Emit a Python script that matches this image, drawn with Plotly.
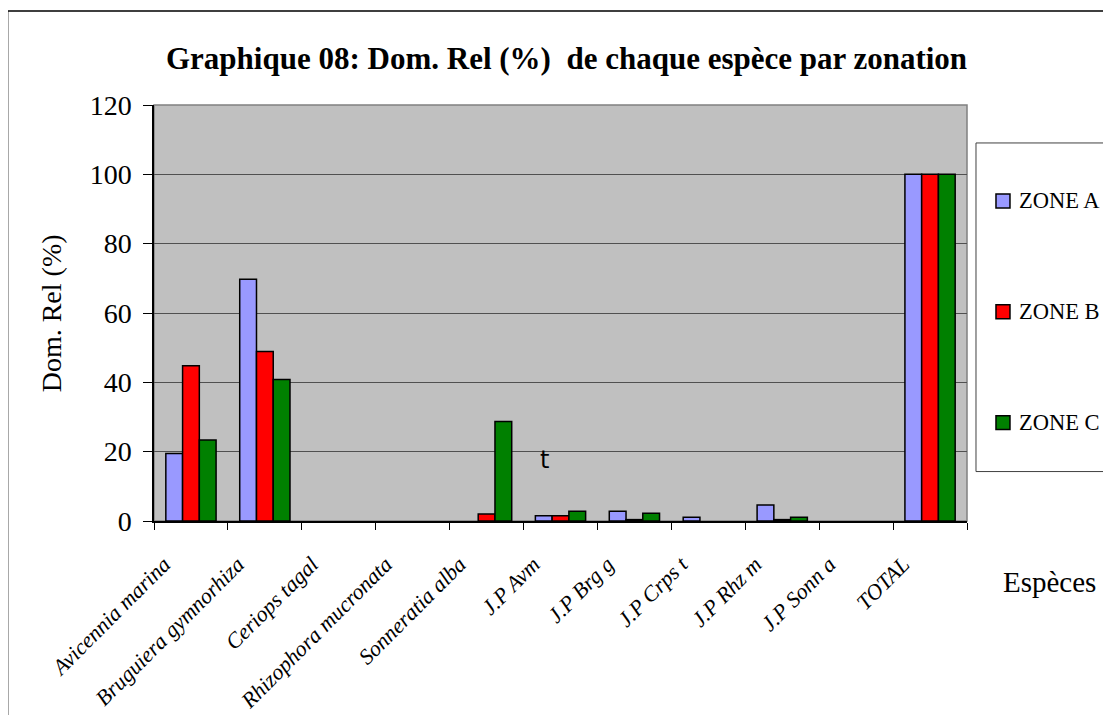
import plotly.graph_objects as go

categories = ["Avicennia marina", "Bruguiera gymnorhiza", "Ceriops tagal",
              "Rhizophora mucronata", "Sonneratia alba", "J.P Avm", "J.P Brg g",
              "J.P Crps t", "J.P Rhz m", "J.P Sonn a", "TOTAL"]
zone_a = [19.5, 69.7, 0, 0, 0, 1.5, 2.8, 1.1, 4.6, 0, 100]
zone_b = [44.8, 48.9, 0, 0, 2.0, 1.5, 0.4, 0, 0.4, 0, 100]
zone_c = [23.4, 40.8, 0, 0, 28.7, 2.8, 2.2, 0, 1.1, 0, 100]
series_names = ["ZONE A", "ZONE B", "ZONE C"]
series_colors = ["#9999FF", "#FF0000", "#008000"]
y_ticks = [0, 20, 40, 60, 80, 100, 120]

OFF = 8  # page body margin
W, H = 1111 - OFF, 715 - OFF
# plot area in page pixels
L, R, T, B = 153.5, 967, 105, 521.5

def px(x):
    return (x - L) / (R - L)

def py(y):
    return (B - y) / (B - T)

serif = "Liberation Serif, Times New Roman, serif"

fig = go.Figure()
for name, vals, col in zip(series_names, [zone_a, zone_b, zone_c], series_colors):
    fig.add_trace(go.Bar(
        x=categories, y=vals, name=name, showlegend=False,
        marker=dict(color=col,
                    line=dict(color="#000000", width=[1.5 if v > 0 else 0 for v in vals])),
    ))

shapes = [
    # outer chart frame
    dict(type="rect", xref="paper", yref="paper",
         x0=px(7), x1=px(1130), y0=py(740), y1=py(11),
         line=dict(color="#000000", width=1.5), fillcolor="rgba(0,0,0,0)", layer="below"),
    # plot area border (gray)
    dict(type="rect", xref="paper", yref="paper", x0=0, x1=1, y0=0, y1=1,
         line=dict(color="#808080", width=1.5), fillcolor="rgba(0,0,0,0)", layer="below"),
    # legend box
    dict(type="rect", xref="paper", yref="paper",
         x0=px(976), x1=px(1130), y0=py(472), y1=py(143),
         line=dict(color="#404040", width=1), fillcolor="#FFFFFF", layer="below"),
]
annotations = [
    dict(text="<b>Graphique 08: Dom. Rel (%)  de chaque espèce par zonation</b>",
         xref="paper", yref="paper", x=px(566), y=py(58), xanchor="center", yanchor="middle",
         showarrow=False, font=dict(family=serif, size=31, color="#000000")),
    dict(text="Dom. Rel (%)", xref="paper", yref="paper", x=px(51), y=py(314),
         xanchor="center", yanchor="middle", textangle=-90, showarrow=False,
         font=dict(family=serif, size=28, color="#000000")),
    dict(text="Espèces", xref="paper", yref="paper", x=px(1050), y=py(583),
         xanchor="center", yanchor="middle", showarrow=False,
         font=dict(family=serif, size=29, color="#000000")),
    dict(text="t", xref="paper", yref="paper", x=px(544), y=py(460),
         xanchor="center", yanchor="middle", showarrow=False,
         font=dict(family="DejaVu Sans, Arial, sans-serif", size=24, color="#000000")),
]
# manual legend
legend_y = [201, 312, 423]
for name, col, ly in zip(series_names, series_colors, legend_y):
    shapes.append(dict(type="rect", xref="paper", yref="paper",
                       x0=px(996), x1=px(1010), y0=py(ly + 7), y1=py(ly - 7),
                       line=dict(color="#000000", width=1.5), fillcolor=col))
    annotations.append(dict(text=name, xref="paper", yref="paper", x=px(1017), y=py(ly),
                            xanchor="left", yanchor="middle", showarrow=False,
                            font=dict(family=serif, size=22.5, color="#000000")))

fig.update_layout(
    width=W, height=H,
    margin=dict(l=L - OFF, r=W - (R - OFF), t=T - OFF, b=H - (B - OFF), autoexpand=False),
    paper_bgcolor="#FFFFFF",
    plot_bgcolor="#C0C0C0",
    barmode="group",
    bargap=0.32,
    bargroupgap=0,
    font=dict(family=serif, color="#000000"),
    showlegend=False,
    xaxis=dict(
        type="category", tickson="boundaries", ticks="outside", ticklen=7,
        tickcolor="#000000", showline=True, linecolor="#000000", linewidth=1.5,
        showgrid=False, tickangle=-45,
        tickfont=dict(family=serif, size=22, style="italic", color="#000000"),
        ticklabelstandoff=20, ticklabelshift=-27,
    ),
    yaxis=dict(
        range=[0, 120], tickvals=y_ticks, ticks="outside", ticklen=9,
        tickcolor="#000000", showline=True, linecolor="#000000", linewidth=1.5,
        showgrid=True, gridcolor="#505050", gridwidth=1,
        tickfont=dict(family=serif, size=28, color="#000000"),
        ticklabelstandoff=6,
        zeroline=False,
    ),
    shapes=shapes,
    annotations=annotations,
)

fig.write_html("out.html")
